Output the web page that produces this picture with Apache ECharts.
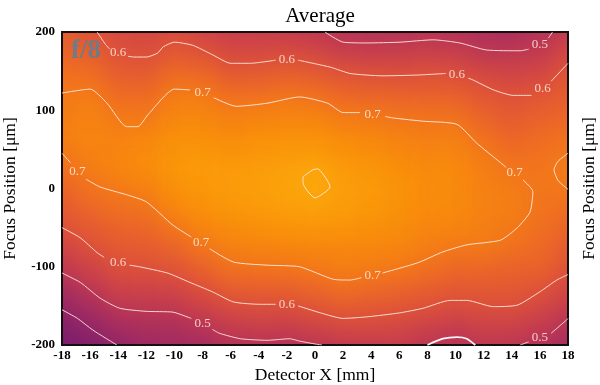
<!DOCTYPE html>
<html><head><meta charset="utf-8">
<script src="https://cdn.jsdelivr.net/npm/echarts@6/dist/echarts.min.js"></script>
<style>
html,body{margin:0;padding:0;background:#fff;}
#wrap{position:relative;width:600px;height:385px;}
.layer{position:absolute;left:0;top:0;width:600px;height:385px;}
#heatBase,#heatBlur{clip-path: inset(32px 32px 40px 62px);}
#heatBlur{filter: blur(10px);}
</style></head><body>
<div id="wrap"><div id="heatBase" class="layer"></div><div id="heatBlur" class="layer"></div><div id="main" class="layer"></div></div>
<script>
// ---- data ----
const xVals = [-18,-16,-14,-12,-10,-8,-6,-4,-2,0,2,4,6,8,10,12,14,16,18];   // Detector X [mm]
const yVals = [200,175,150,125,100,75,50,25,0,-25,-50,-75,-100,-125,-150,-175,-200]; // Focus [um]
// efficiency rows, one per yVals entry (top to bottom), columns follow xVals
const eff = [
 [0.630,0.604,0.575,0.565,0.580,0.555,0.535,0.530,0.522,0.507,0.490,0.485,0.485,0.490,0.480,0.470,0.465,0.480,0.515],
 [0.652,0.636,0.600,0.590,0.620,0.604,0.572,0.573,0.580,0.565,0.532,0.527,0.528,0.532,0.528,0.500,0.500,0.514,0.565],
 [0.675,0.670,0.631,0.624,0.662,0.652,0.618,0.620,0.630,0.620,0.600,0.588,0.586,0.592,0.586,0.560,0.554,0.558,0.606],
 [0.697,0.702,0.663,0.658,0.703,0.700,0.665,0.668,0.678,0.671,0.647,0.640,0.635,0.633,0.631,0.608,0.590,0.602,0.630],
 [0.710,0.720,0.695,0.692,0.725,0.725,0.710,0.715,0.720,0.715,0.694,0.690,0.680,0.675,0.671,0.638,0.619,0.635,0.650],
 [0.715,0.730,0.715,0.720,0.745,0.745,0.735,0.740,0.745,0.745,0.730,0.720,0.712,0.705,0.710,0.670,0.645,0.660,0.675],
 [0.705,0.725,0.730,0.740,0.760,0.765,0.755,0.765,0.770,0.770,0.755,0.745,0.735,0.725,0.725,0.701,0.670,0.680,0.697],
 [0.679,0.710,0.730,0.745,0.765,0.775,0.775,0.780,0.790,0.800,0.775,0.765,0.750,0.740,0.738,0.715,0.695,0.693,0.710],
 [0.653,0.689,0.705,0.720,0.755,0.770,0.780,0.785,0.795,0.805,0.785,0.775,0.760,0.745,0.742,0.720,0.710,0.695,0.700],
 [0.626,0.659,0.678,0.690,0.735,0.755,0.770,0.775,0.785,0.790,0.780,0.770,0.757,0.740,0.738,0.720,0.715,0.690,0.678],
 [0.600,0.629,0.651,0.660,0.695,0.730,0.745,0.755,0.760,0.765,0.760,0.755,0.745,0.730,0.728,0.715,0.702,0.680,0.655],
 [0.557,0.598,0.623,0.630,0.654,0.695,0.720,0.725,0.730,0.735,0.735,0.735,0.728,0.715,0.703,0.703,0.685,0.665,0.631],
 [0.514,0.554,0.596,0.600,0.613,0.649,0.688,0.694,0.698,0.705,0.715,0.712,0.705,0.684,0.665,0.661,0.651,0.650,0.608],
 [0.465,0.509,0.553,0.556,0.566,0.604,0.638,0.645,0.647,0.664,0.684,0.672,0.659,0.644,0.627,0.628,0.625,0.612,0.573],
 [0.411,0.458,0.505,0.512,0.516,0.550,0.586,0.596,0.595,0.614,0.633,0.626,0.616,0.603,0.585,0.598,0.598,0.570,0.530],
 [0.370,0.406,0.456,0.470,0.475,0.497,0.531,0.541,0.539,0.557,0.577,0.580,0.570,0.550,0.532,0.550,0.548,0.526,0.488],
 [0.340,0.360,0.400,0.430,0.440,0.450,0.478,0.487,0.482,0.498,0.513,0.520,0.525,0.498,0.480,0.508,0.499,0.483,0.455]
];
// contour polylines [x mm, y um], split where the inline labels sit
const c06top = [
 [[-15.5,200],[-14.9,184],[-14.6,178]],
 [[-13.3,169],[-12.9,168],[-12.0,168],[-11.2,173],[-10.8,181],[-10.0,187],[-8.7,183],[-7.3,171],[-6.0,160],[-4.6,160],[-2.8,164]],
 [[-1.2,164],[1.1,155],[2.5,147],[4.8,144],[7.3,145],[9.3,147]],
 [[10.9,141],[11.2,139],[12.7,126],[14.1,119],[15.4,119]],
 [[16.8,137],[17.9,158],[18,160]]
];
const c05top = [
 [[0.7,200],[2.0,187],[3.7,186],[6.05,187],[8.4,190],[10.3,186],[12.2,177],[14.6,176],[15.2,178]],
 [[16.6,192],[16.9,200]]
];
const c07main = [
 [[-18,122],[-16,127],[-14.8,109],[-13.4,79],[-12.6,79],[-11.9,94],[-10.0,127],[-8.9,126]],
 [[-7.2,116],[-5.6,105],[-3.4,109],[-1.1,117],[0.9,109],[2.0,97],[3.2,97]],
 [[5.0,92],[5.6,90],[7.7,86],[10.1,82],[11.5,58],[13.2,33],[13.6,27]],
 [[14.8,11],[15.3,2],[15.5,-4],[15.3,-30],[14.4,-50],[13.2,-66],[10.8,-72],[9.1,-81],[7.3,-95],[4.8,-108]],
 [[3.3,-114],[2.5,-117],[1.3,-116],[-1.1,-100],[-3.4,-98],[-5.8,-94],[-7.5,-77]],
 [[-8.8,-62],[-10.1,-47],[-12.0,-17],[-13.4,-8],[-15.3,2],[-16.3,12]],
 [[-17.4,33],[-18,45]]
];
const c07right = [[[18,45],[17.3,35],[17.0,24],[17.3,10],[18,-1]]];
const c08centre = [[[-0.85,15],[-0.14,24],[0.2,25],[0.85,11],[1.07,2],[0.0,-12],[-0.85,7],[-0.85,15]]];
const c06low = [
 [[-18,-50],[-16.7,-63],[-15.5,-82],[-15.0,-88]],
 [[-13.2,-98],[-12.5,-100],[-10.5,-108],[-8.9,-120],[-7.3,-132],[-5.8,-145],[-3.9,-148],[-2.8,-148]],
 [[-1.2,-150],[0.4,-159],[2.0,-166],[3.7,-164],[6.0,-159],[7.7,-153],[9.6,-143],[10.8,-143],[12.7,-151],[14.4,-149],[16.0,-132],[17.2,-117],[18,-110]]
];
const c05low = [
 [[-18,-108],[-16.7,-120],[-15.3,-140],[-13.9,-153],[-12.0,-157],[-10.1,-158],[-9.1,-164],[-8.8,-166]],
 [[-7.3,-180],[-6.8,-185],[-5.3,-192],[-3.4,-194],[-1.8,-192],[-1.1,-195],[0.1,-199],[0.5,-200]]
];
const c04corner = [[[-18,-155],[-16.9,-166],[-15.8,-181],[-14.1,-200]]];
const c05bump = [[[8.0,-200],[9.1,-192],[10.1,-190],[10.8,-192],[11.4,-200]]];
const c05right = [
 [[14.6,-200],[15.2,-196]],
 [[16.8,-185],[17.9,-168],[18,-166]]
];
const labelPts = [
 [-14.0,174,'0.6'],[-2.0,165,'0.6'],[10.1,145,'0.6'],[16.2,128,'0.6'],[16.0,184,'0.5'],
 [-8.0,122,'0.7'],[4.1,95,'0.7'],[14.2,20,'0.7'],[4.1,-111,'0.7'],[-8.1,-69,'0.7'],[-16.9,22,'0.7'],
 [-14.0,-95,'0.6'],[-2.0,-148,'0.6'],[-8.0,-172,'0.5'],[16.0,-191,'0.5']
];
const xTicks = {min:-18, max:18, step:2};
const yTicks = {min:-200, max:200, step:100};

// ---- rendering ----
const F = '"Liberation Serif","Times New Roman",serif';
const inferno = ['#6a176e','#7e1e6c','#932667','#a52c60','#bc3754','#ce4347','#dd513a','#ea632a','#f37819','#f98e09','#fca50a','#f9be23'];

function heatOption(){
  const data = [];
  for (let i=0;i<yVals.length;i++) for (let j=0;j<xVals.length;j++) data.push([j,i,eff[i][j]]);
  return {
    animation:false,
    grid:{left:47.94, top:22.22, width:534.11, height:332.56, outerBoundsMode:'none', containLabel:false},
    xAxis:{type:'category', data:xVals.map(String), show:false},
    yAxis:{type:'category', data:yVals.map(String), inverse:true, show:false},
    visualMap:{show:false, type:'continuous', min:0.3, max:0.85, inRange:{color:inferno}},
    series:[{type:'heatmap', data, itemStyle:{borderWidth:0}, emphasis:{disabled:true}, progressive:0}]
  };
}
echarts.init(document.getElementById('heatBase')).setOption(heatOption());
echarts.init(document.getElementById('heatBlur')).setOption(heatOption());

const lineSets = [
  {segs:c06top}, {segs:c05top}, {segs:c07main}, {segs:c07right}, {segs:c08centre},
  {segs:c06low}, {segs:c05low}, {segs:c04corner}, {segs:c05bump, w:1.8, col:'rgba(255,255,255,0.95)'}, {segs:c05right}
];
const series = [];
lineSets.forEach(s => s.segs.forEach(seg => series.push({
  type:'line', data:seg, symbol:'none', smooth:0.2, silent:true, z:3,
  lineStyle:{color:s.col||'rgba(255,236,226,0.88)', width:s.w||1}
})));
series.push({
  type:'scatter', data:labelPts, symbolSize:1, itemStyle:{color:'rgba(0,0,0,0)'}, silent:true, z:4,
  label:{show:true, position:'inside', formatter:p=>p.value[2], color:'#fff3ea', fontSize:13, fontFamily:F}
});

const axisCommon = {
  axisLine:{show:false}, axisTick:{show:false}, splitLine:{show:false},
  nameLocation:'middle', nameTextStyle:{fontFamily:F, fontSize:17.5, color:'#000'}
};
const main = echarts.init(document.getElementById('main'));
main.setOption({
  animation:false,
  title:{text:'Average', left:315, textAlign:'center', top:1, textStyle:{fontFamily:F, fontSize:21, fontWeight:'normal', color:'#000'}},
  grid:{left:62, top:32, width:506, height:313, show:true, borderColor:'#111', borderWidth:2, backgroundColor:'transparent', outerBoundsMode:'none', containLabel:false},
  xAxis:Object.assign({type:'value', min:xTicks.min, max:xTicks.max, interval:xTicks.step, name:'Detector X [mm]', nameGap:18,
    axisLabel:{fontFamily:F, fontSize:13, fontWeight:'bold', color:'#000', margin:4}}, axisCommon),
  yAxis:[
    Object.assign({type:'value', min:yTicks.min, max:yTicks.max, interval:yTicks.step, position:'left', name:'Focus Position [μm]', nameGap:43, nameRotate:90,
      axisLabel:{fontFamily:F, fontSize:13, fontWeight:'bold', color:'#000', margin:7}}, axisCommon),
    Object.assign({type:'value', min:yTicks.min, max:yTicks.max, interval:yTicks.step, position:'right', name:'Focus Position [μm]', nameGap:12, nameRotate:90,
      axisLabel:{show:false}}, axisCommon)
  ],
  graphic:[{type:'text', left:71, top:38, z:10, style:{text:'f/8', font:'bold 27px "Liberation Serif"', fill:'#6f7c86'}}],
  series
});
</script>
</body></html>
